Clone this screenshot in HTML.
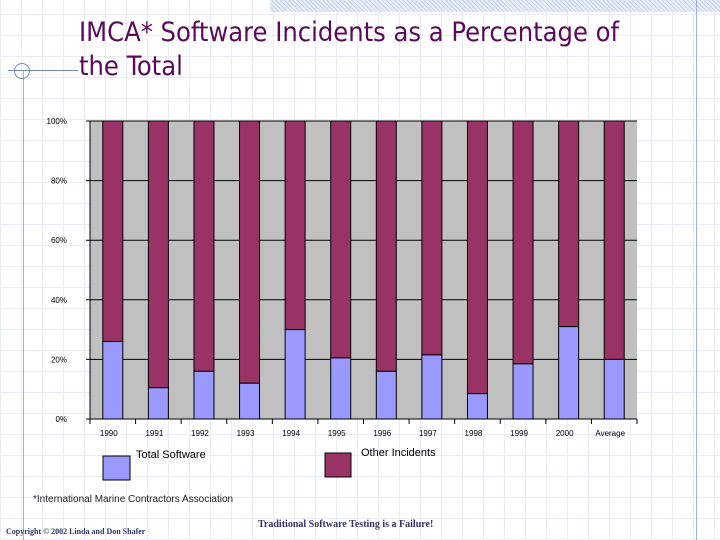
<!DOCTYPE html>
<html><head><meta charset="utf-8"><style>
html,body{margin:0;padding:0}
body{width:720px;height:540px;position:relative;overflow:hidden;background:#fff;
background-image:repeating-linear-gradient(0deg,#e8ecf3 0 1px,transparent 1px 21px),repeating-linear-gradient(90deg,#e8ecf3 0 1px,transparent 1px 21px);
font-family:"Liberation Sans",sans-serif}
.t{position:absolute}
</style></head><body>
<div class="t" style="left:270px;top:0;width:450px;height:12px;background:repeating-linear-gradient(45deg,#c8d4ea 0 1px,#e8eef8 1px 3px)"></div>
<div class="t" style="left:696px;top:0;width:1px;height:540px;background:#9fb2d6"></div>
<div class="t" style="left:23px;top:70px;width:1px;height:470px;background:#9fb2d6"></div>
<div class="t" style="left:8px;top:70px;width:70px;height:1px;background:#6f86c0"></div>
<div class="t" style="left:14px;top:63px;width:14px;height:14px;border:1px solid #6f86c0;border-radius:50%"></div>
<div class="t" style="left:79px;top:16px;font-size:27px;line-height:34px;color:#5a0a5a;font-family:'DejaVu Sans Condensed','Liberation Sans Narrow','Liberation Sans',sans-serif">IMCA* Software Incidents as a Percentage of<br>the Total</div>
<svg class="t" style="left:0;top:0" width="720" height="540">
<g id="g"></g>
</svg>
<div class="t" style="left:33px;top:494px;font-size:10px;color:#222">*International Marine Contractors Association</div>
<div class="t" style="left:6px;top:527px;font-size:8px;font-weight:bold;color:#333366;font-family:'Liberation Serif',serif">Copyright © 2002 Linda and Don Shafer</div>
<div class="t" style="left:258px;top:519px;font-size:10px;font-weight:bold;color:#333366;font-family:'Liberation Serif',serif">Traditional Software Testing is a Failure!</div>
<script>
const categories=["1990","1991","1992","1993","1994","1995","1996","1997","1998","1999","2000","Average"];
const softwarePct=[26,10.5,16,12,30,20.5,16,21.5,8.5,18.5,31,20];
const yTicks=[0,20,40,60,80,100];
const yTickLabels=["0%","20%","40%","60%","80%","100%"];
const NS="http://www.w3.org/2000/svg";
const L=90,R=637,T=121,B=419;
const y=v=>B-(v/100)*(B-T);
const step=(R-L)/categories.length;
const xc=i=>L+step*(i+0.5);
const g=document.getElementById('g');
function mk(tag,a){const e=document.createElementNS(NS,tag);for(const k in a)e.setAttribute(k,a[k]);g.appendChild(e);return e;}
let e=mk('rect',{x:L,y:T,width:R-L,height:B-T,fill:'#c0c0c0'});


yTicks.forEach((v,i)=>{
 let l=mk('line',{x1:L-4,x2:R,y1:y(v),y2:y(v),stroke:'#000','stroke-width':1});
 
 
 let t=mk('text',{x:67,y:y(v)+3,'text-anchor':'end','font-size':8,fill:'#000','font-family':'Liberation Sans,sans-serif'});
 t.textContent=yTickLabels[i];
 
 
});
let ax=mk('line',{x1:L,x2:L,y1:T,y2:B,stroke:'#000'});


categories.forEach((c,i)=>{
 const x0=xc(i)-10;
 let o=mk('rect',{x:x0,y:T,width:20,height:y(softwarePct[i])-T,fill:'#993366',stroke:'#000','stroke-width':1});
 
 
 let s=mk('rect',{x:x0,y:y(softwarePct[i]),width:20,height:B-y(softwarePct[i]),fill:'#9999ff',stroke:'#000','stroke-width':1});
 
 
 let tk=mk('line',{x1:L+step*(i+1),x2:L+step*(i+1),y1:B,y2:B+5,stroke:'#000'});
 
 
 let t=mk('text',{x:xc(i)-4,y:B+17,'text-anchor':'middle','font-size':8,fill:'#000','font-family':'Liberation Sans,sans-serif'});
 t.textContent=c;
 
 
});
let tk0=mk('line',{x1:L,x2:L,y1:B,y2:B+5,stroke:'#000'});


let l1=mk('rect',{x:103,y:456,width:27,height:24,fill:'#9999ff',stroke:'#000'});


let lt1=mk('text',{x:136,y:458,'font-size':11,fill:'#000','font-family':'Liberation Sans,sans-serif'});
lt1.textContent='Total Software';


let l2=mk('rect',{x:325,y:453,width:26,height:24,fill:'#993366',stroke:'#000'});


let lt2=mk('text',{x:361,y:456,'font-size':11,fill:'#000','font-family':'Liberation Sans,sans-serif'});
lt2.textContent='Other Incidents';


</script>
</body></html>
